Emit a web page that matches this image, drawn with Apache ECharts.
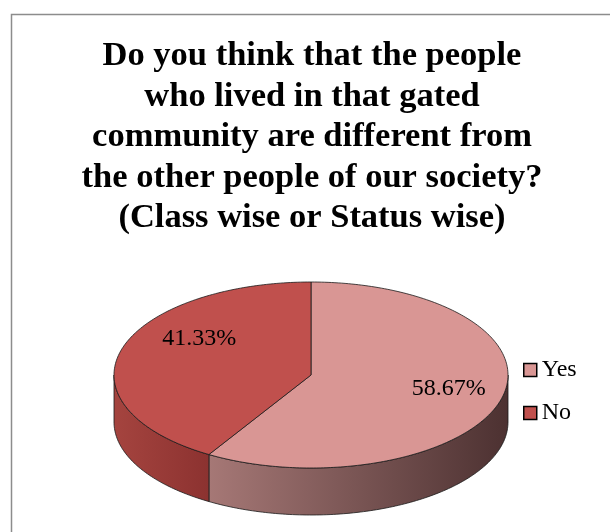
<!DOCTYPE html>
<html>
<head>
<meta charset="utf-8">
<script src="https://cdn.jsdelivr.net/npm/echarts@6/dist/echarts.min.js"></script>
<style>
  html, body { margin: 0; padding: 0; background: #fff; }
  #chart { width: 610px; height: 532px; }
</style>
</head>
<body>
<div id="chart"></div>
<script>
// Survey answers and their shares (percent)
const categories = ['Yes', 'No'];
const percentages = [58.67, 41.33];
const labelTexts = ['58.67%', '41.33%'];

// Colours: top face, and left/right stops of the side gradient
const topColors = ['#D99694', '#C0504D'];
const sideColors = [['#A67876', '#4C3131'], ['#A5443F', '#8C3230']];

// Tilted pie layout
const PIE = { cx: 311, cy: 375, rx: 197, ry: 93, depth: 47 };
const labelRadius = 0.7;
const labelNudge = [[5, -4], [21, -19]];
const SERIF = '"Liberation Serif", "Times New Roman", serif';

const total = percentages.reduce((a, b) => a + b, 0);
const startAngles = [];
let acc = 0;
percentages.forEach(v => { startAngles.push(acc / total * 360); acc += v; });

function pt(deg, yOff, r) {
  const t = deg * Math.PI / 180;
  const k = r == null ? 1 : r;
  return [PIE.cx + PIE.rx * k * Math.sin(t), PIE.cy - PIE.ry * k * Math.cos(t) + (yOff || 0)];
}

function arc(a, b, yOff) {
  const pts = [];
  const n = Math.max(2, Math.ceil(Math.abs(b - a)));
  for (let i = 0; i <= n; i++) pts.push(pt(a + (b - a) * i / n, yOff));
  return pts;
}

function makeRenderer(idx) {
  return function (params, api) {
    const value = api.value(0);
    const a = startAngles[idx];
    const b = a + value / total * 360;
    const children = [];

    // visible front wall: the part of the rim facing the viewer (90..270 deg)
    const s = Math.max(a, 90), e = Math.min(b, 270);
    if (e > s) {
      const pts = arc(s, e, 0).concat(arc(e, s, PIE.depth));
      children.push({
        type: 'polygon',
        z2: 1,
        shape: { points: pts },
        style: {
          fill: {
            type: 'linear', x: 0, y: 0, x2: 1, y2: 0,
            colorStops: [
              { offset: 0, color: sideColors[idx][0] },
              { offset: 1, color: sideColors[idx][1] }
            ]
          },
          stroke: '#1a1a1a',
          lineWidth: 0.8
        }
      });
    }

    // top face
    const topPts = [[PIE.cx, PIE.cy]].concat(arc(a, b, 0));
    children.push({
      type: 'polygon',
      z2: 10,
      shape: { points: topPts },
      style: { fill: topColors[idx], stroke: '#1a1a1a', lineWidth: 0.8 }
    });

    // value label
    const lp = pt((a + b) / 2, 0, labelRadius);
    children.push({
      type: 'text',
      z2: 20,
      x: lp[0] + labelNudge[idx][0],
      y: lp[1] + labelNudge[idx][1],
      style: {
        text: labelTexts[idx],
        fill: '#000',
        font: '24px ' + SERIF,
        align: 'center',
        verticalAlign: 'middle'
      }
    });

    return { type: 'group', children: children };
  };
}

const chart = echarts.init(document.getElementById('chart'), null, { renderer: 'canvas' });

chart.setOption({
  backgroundColor: '#fff',
  animation: false,
  title: {
    text: 'Do you think that the people\nwho lived in that gated\ncommunity are different from\nthe other people of our society?\n(Class wise or Status wise)',
    left: 307,
    top: 31,
    textAlign: 'center',
    textStyle: {
      fontFamily: SERIF,
      fontWeight: 'bold',
      fontSize: 34.5,
      lineHeight: 40.5,
      color: '#000'
    }
  },
  legend: {
    data: categories,
    orient: 'vertical',
    left: 523,
    top: 358,
    padding: 0,
    icon: 'rect',
    itemWidth: 13,
    itemHeight: 13,
    itemGap: 19,
    itemStyle: { borderColor: '#000', borderWidth: 1.5 },
    textStyle: {
      fontFamily: SERIF,
      fontSize: 24,
      color: '#000'
    },
    selectedMode: false
  },
  graphic: [{
    type: 'rect',
    shape: { x: 11.5, y: 14.5, width: 700, height: 600 },
    style: { fill: 'none', stroke: '#8c8c8c', lineWidth: 1.5 },
    silent: true
  }],
  series: categories.map((name, i) => ({
    type: 'custom',
    name: name,
    coordinateSystem: 'none',
    itemStyle: { color: topColors[i] },
    renderItem: makeRenderer(i),
    data: [[percentages[i]]]
  }))
});
</script>
</body>
</html>
